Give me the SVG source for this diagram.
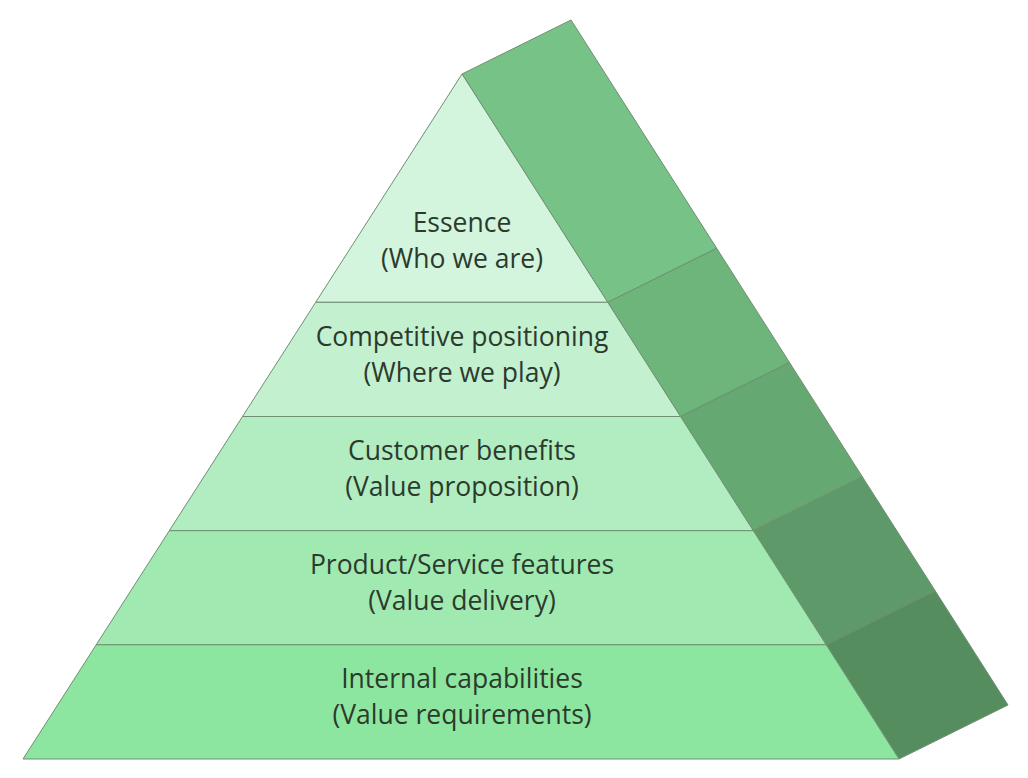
<svg xmlns="http://www.w3.org/2000/svg" width="1028" height="778" viewBox="0 0 1028 778">
<style>
.f{stroke:#6f8f72;stroke-width:1;stroke-linejoin:round}
.t{font-family:"Open Sans","Noto Sans","Liberation Sans",sans-serif;font-size:26.5px;fill:#2c3a2e;text-anchor:middle}
</style>
<rect width="1028" height="778" fill="#ffffff"/>
<g id="side">
<polygon class="f" fill="#77c287" points="462,74 571,20 716.7,248.3 607.7,302.3"/>
<polygon class="f" fill="#6eb57c" points="607.7,302.3 716.7,248.3 789.5,362.5 680.5,416.5"/>
<polygon class="f" fill="#66a872" points="680.5,416.5 789.5,362.5 862.3,476.7 753.3,530.7"/>
<polygon class="f" fill="#5e9a69" points="753.3,530.7 862.3,476.7 935.2,590.8 826.2,644.8"/>
<polygon class="f" fill="#568d5f" points="826.2,644.8 935.2,590.8 1008,705 899,759"/>
</g>
<g id="layer1">
<polygon class="f" fill="#d3f4dd" points="462,74 607.7,302.3 315.7,302.3"/>
<text class="t" x="462" y="232">Essence</text>
<text class="t" x="462" y="268">(Who we are)</text>
</g>
<g id="layer2">
<polygon class="f" fill="#c3f0cf" points="315.7,302.3 607.7,302.3 680.5,416.5 242.5,416.5"/>
<text class="t" x="462" y="346">Competitive positioning</text>
<text class="t" x="462" y="382">(Where we play)</text>
</g>
<g id="layer3">
<polygon class="f" fill="#b1edc0" points="242.5,416.5 680.5,416.5 753.3,530.7 169.3,530.7"/>
<text class="t" x="462" y="460">Customer benefits</text>
<text class="t" x="462" y="496">(Value proposition)</text>
</g>
<g id="layer4">
<polygon class="f" fill="#a0eab1" points="169.3,530.7 753.3,530.7 826.2,644.8 96.2,644.8"/>
<text class="t" x="462" y="574">Product/Service features</text>
<text class="t" x="462" y="610">(Value delivery)</text>
</g>
<g id="layer5">
<polygon class="f" fill="#8de69f" points="96.2,644.8 826.2,644.8 899,759 23,759"/>
<text class="t" x="462" y="688">Internal capabilities</text>
<text class="t" x="462" y="724">(Value requirements)</text>
</g>
<g id="connectors"/>
</svg>
